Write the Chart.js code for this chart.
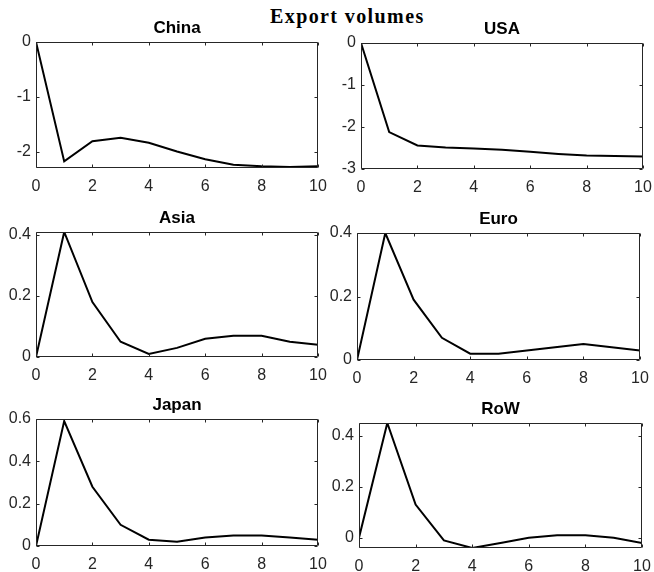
<!DOCTYPE html>
<html>
<head>
<meta charset="utf-8">
<script src="https://cdn.jsdelivr.net/npm/chart.js@4.4.1/dist/chart.umd.min.js"></script>
<style>
  html, body { margin: 0; padding: 0; background: #fff; }
  #page { position: relative; width: 654px; height: 572px; overflow: hidden; background: #fff; }
  #suptitle {
    position: absolute; left: 270px; top: 6px; width: 170px;
    font: bold 20px "Liberation Serif", "DejaVu Serif", serif;
    line-height: 20px; letter-spacing: 1.4px; white-space: nowrap; color: #000;
  }
  canvas { position: absolute; }
</style>
</head>
<body>
<div id="page">
  <div id="suptitle">Export volumes</div>
</div>
<script>
// Quarters after the shock
const horizon = [0, 1, 2, 3, 4, 5, 6, 7, 8, 9, 10];
const horizonTicks = [0, 2, 4, 6, 8, 10];

// Export volume responses by region
const chinaValues = [0, -2.18, -1.81, -1.75, -1.84, -2.0, -2.14, -2.24, -2.27, -2.28, -2.27];
const usaValues   = [0, -2.12, -2.44, -2.49, -2.51, -2.54, -2.59, -2.64, -2.68, -2.69, -2.70];
const asiaValues  = [0, 0.41, 0.18, 0.05, 0.01, 0.03, 0.06, 0.07, 0.07, 0.05, 0.04];
const euroValues  = [0, 0.40, 0.19, 0.07, 0.02, 0.02, 0.03, 0.04, 0.05, 0.04, 0.03];
const japanValues = [0, 0.59, 0.28, 0.10, 0.03, 0.02, 0.04, 0.05, 0.05, 0.04, 0.03];
const rowValues   = [0, 0.45, 0.13, -0.01, -0.04, -0.02, 0, 0.01, 0.01, 0, -0.02];

// Vertical tick labels for each panel
const chinaTicks = [0, -1, -2];
const usaTicks   = [0, -1, -2, -3];
const asiaTicks  = [0, 0.2, 0.4];
const euroTicks  = [0, 0.2, 0.4];
const japanTicks = [0, 0.2, 0.4, 0.6];
const rowTicks   = [0, 0.2, 0.4];

// Panel layout: plot-box edges in page pixels [left, top, right, bottom]
const panels = [
  { title: 'China', values: chinaValues, ticks: chinaTicks, yMin: -2.3, yMax: 0,    box: [36, 42, 318, 168] },
  { title: 'USA',   values: usaValues,   ticks: usaTicks,   yMin: -3,   yMax: 0,    box: [361, 43, 643, 169] },
  { title: 'Asia',  values: asiaValues,  ticks: asiaTicks,  yMin: 0,    yMax: 0.41, box: [36, 232, 318, 357] },
  { title: 'Euro',  values: euroValues,  ticks: euroTicks,  yMin: 0,    yMax: 0.4,  box: [357, 233, 640, 360] },
  { title: 'Japan', values: japanValues, ticks: japanTicks, yMin: 0,    yMax: 0.6,  box: [36, 419, 318, 546] },
  { title: 'RoW',   values: rowValues,   ticks: rowTicks,   yMin: -0.04, yMax: 0.45, box: [359, 423, 642, 548] }
];

const AXIS_COLOR = '#262626';
const SIDE = 40, MARGIN_T = 24, MARGIN_B = 32;
const TICK_LEN = 3;
const SANS = '"Liberation Sans", Arial, Helvetica, sans-serif';

// Boxed axes with inward tick marks on all four sides
const boxedAxes = {
  id: 'boxedAxes',
  afterDatasetsDraw(chart) {
    const { ctx, chartArea: a, scales: { x, y } } = chart;
    const l = Math.round(a.left) + 0.5, r = Math.round(a.right) - 0.5;
    const t = Math.round(a.top) + 0.5, b = Math.round(a.bottom) - 0.5;
    ctx.save();
    ctx.strokeStyle = AXIS_COLOR;
    ctx.lineWidth = 1;
    ctx.beginPath();
    ctx.rect(l, t, r - l, b - t);
    x.ticks.forEach(tk => {
      const px = Math.round(x.getPixelForValue(tk.value)) + 0.5;
      ctx.moveTo(px, b); ctx.lineTo(px, b - TICK_LEN);
      ctx.moveTo(px, t); ctx.lineTo(px, t + TICK_LEN);
    });
    y.ticks.forEach(tk => {
      const py = Math.round(y.getPixelForValue(tk.value)) + 0.5;
      ctx.moveTo(l, py); ctx.lineTo(l + TICK_LEN, py);
      ctx.moveTo(r, py); ctx.lineTo(r - TICK_LEN, py);
    });
    ctx.stroke();
    ctx.restore();
  }
};

const page = document.getElementById('page');
const tickFont = { family: SANS, size: 16 };

panels.forEach(p => {
  const [L, T, R, B] = p.box;
  const canvas = document.createElement('canvas');
  const w = (R - L) + 2 * SIDE;
  const h = (B - T) + MARGIN_T + MARGIN_B;
  canvas.width = w; canvas.height = h;
  canvas.style.width = w + 'px'; canvas.style.height = h + 'px';
  canvas.style.left = (L - SIDE) + 'px';
  canvas.style.top = (T - MARGIN_T) + 'px';
  page.appendChild(canvas);

  new Chart(canvas, {
    type: 'line',
    data: {
      datasets: [{
        data: horizon.map((q, i) => ({ x: q, y: p.values[i] })),
        borderColor: '#000',
        borderWidth: 2,
        pointRadius: 0,
        fill: false,
        tension: 0
      }]
    },
    options: {
      responsive: false,
      animation: false,
      devicePixelRatio: 1,
      layout: { padding: 0 },
      plugins: {
        legend: { display: false },
        tooltip: { enabled: false },
        title: {
          display: true,
          text: p.title,
          color: '#000',
          font: { family: SANS, size: 17, weight: 'bold' },
          padding: { top: 0, bottom: 3.6 }
        }
      },
      scales: {
        x: {
          type: 'linear',
          min: 0, max: 10,
          grid: { display: false, drawTicks: false },
          border: { display: false },
          ticks: { color: AXIS_COLOR, font: tickFont, padding: 9, maxRotation: 0,
                   callback: v => String(v) },
          afterBuildTicks: s => { s.ticks = horizonTicks.map(v => ({ value: v })); },
          afterFit: s => { s.height = MARGIN_B; }
        },
        y: {
          min: p.yMin, max: p.yMax,
          grid: { display: false, drawTicks: false },
          border: { display: false },
          ticks: { color: AXIS_COLOR, font: tickFont, padding: 5,
                   callback: v => String(v) },
          afterBuildTicks: s => { s.ticks = p.ticks.map(v => ({ value: v })); },
          afterFit: s => { s.width = SIDE; }
        },
        // empty right-hand gutter, same width as the labelled side,
        // so the panel title stays centred over the plot box
        gutter: {
          type: 'linear',
          position: 'right',
          grid: { display: false, drawTicks: false },
          border: { display: false },
          ticks: { display: false },
          afterFit: s => { s.width = SIDE; }
        }
      }
    },
    plugins: [boxedAxes]
  });
});
</script>
</body>
</html>
